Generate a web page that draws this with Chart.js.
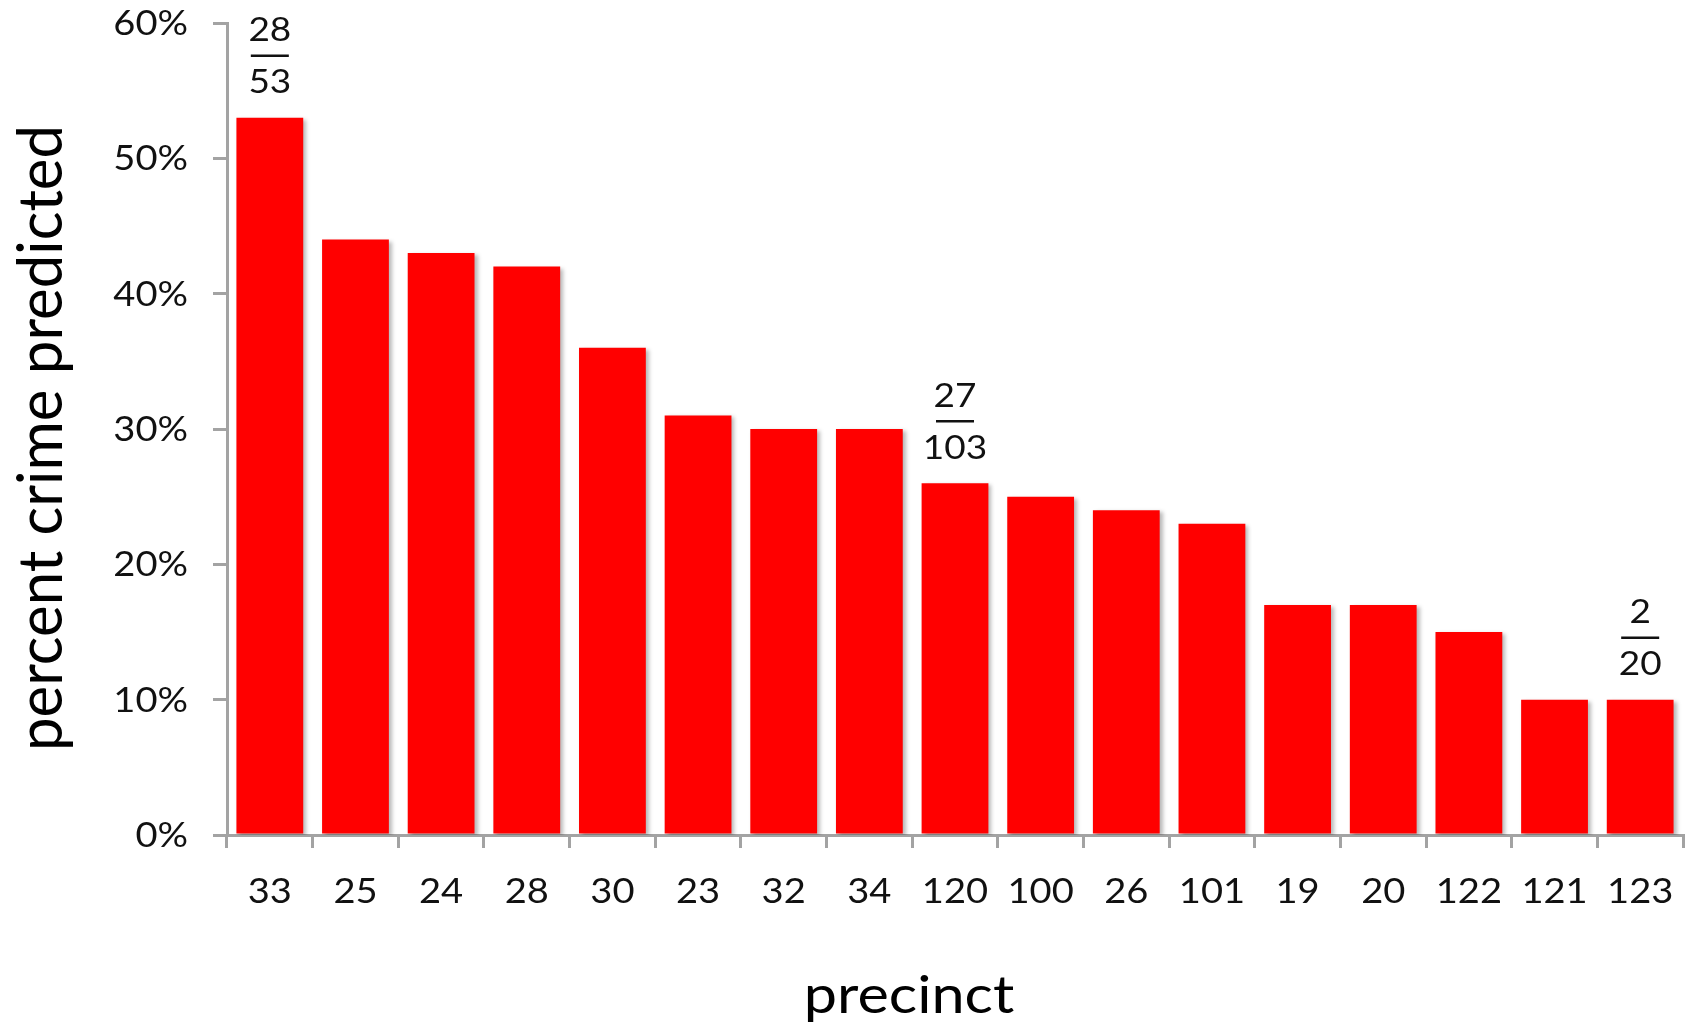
<!DOCTYPE html>
<html>
<head>
<meta charset="utf-8">
<script src="https://cdn.jsdelivr.net/npm/chart.js@4.4.1/dist/chart.umd.min.js"></script>
<style>
  html, body { margin: 0; padding: 0; background: #fff; }
  #wrap { width: 1687px; height: 1025px; }
</style>
</head>
<body>
<div id="wrap"><canvas id="crimeChart" width="1687" height="1025"></canvas></div>
<script>
// Precincts ordered by share of crime predicted
const precincts = ['33', '25', '24', '28', '30', '23', '32', '34', '120', '100', '26', '101', '19', '20', '122', '121', '123'];
const percentPredicted = [0.53, 0.44, 0.43, 0.42, 0.36, 0.31, 0.30, 0.30, 0.26, 0.25, 0.24, 0.23, 0.17, 0.17, 0.15, 0.10, 0.10];
const yTicks = [0, 0.1, 0.2, 0.3, 0.4, 0.5, 0.6];
// Fractions written above a few bars (predicted / total)
const fractionTop = [28, null, null, null, null, null, null, null, 27, null, null, null, null, null, null, null, 2];
const fractionBottom = [53, null, null, null, null, null, null, null, 103, null, null, null, null, null, null, null, 20];

const FONT = 'Lato, "Open Sans", sans-serif';
const AXIS_GRAY = '#a3a3a3';
const STRETCH = 1.12;   // the original picture is a bit wider than tall

// text drawn a little wider, like the source image
function wideText(ctx, text, x, y, align, baseline) {
    ctx.save();
    ctx.translate(x, y);
    ctx.scale(STRETCH, 1);
    ctx.textAlign = align;
    ctx.textBaseline = baseline;
    ctx.fillText(text, 0, 0);
    ctx.restore();
}

const textPlugin = {
    id: 'textLayer',
    beforeDatasetsDraw(chart) {
        // soft shadow under the bars
        const ctx = chart.ctx;
        ctx.save();
        ctx.shadowColor = 'rgba(0, 0, 0, 0.28)';
        ctx.shadowBlur = 4;
        ctx.shadowOffsetX = 3;
        ctx.shadowOffsetY = 2;
    },
    afterDatasetsDraw(chart) {
        const ctx = chart.ctx;
        ctx.restore();

        const xScale = chart.scales.x;
        const yScale = chart.scales.y;
        const area = chart.chartArea;

        ctx.save();
        ctx.fillStyle = '#111';
        ctx.strokeStyle = '#111';

        // tick labels
        ctx.font = '34px ' + FONT;
        precincts.forEach((p, i) => {
            wideText(ctx, p, xScale.getPixelForValue(i), xScale.top + 68, 'center', 'alphabetic');
        });
        yTicks.forEach(v => {
            wideText(ctx, Math.round(v * 100) + '%', area.left - 39, yScale.getPixelForValue(v) + 1, 'right', 'middle');
        });

        // fractions above a few bars
        ctx.font = '33px ' + FONT;
        const meta = chart.getDatasetMeta(0);
        meta.data.forEach((bar, i) => {
            if (fractionTop[i] == null) return;
            const x = bar.x;
            const lineY = bar.y - 62;
            ctx.lineWidth = 2.5;
            ctx.beginPath();
            ctx.moveTo(x - 19, lineY);
            ctx.lineTo(x + 19, lineY);
            ctx.stroke();
            wideText(ctx, String(fractionTop[i]), x, lineY - 25, 'center', 'middle');
            wideText(ctx, String(fractionBottom[i]), x, lineY + 27, 'center', 'middle');
        });

        // axis titles
        ctx.fillStyle = '#000';
        ctx.font = '53px ' + FONT;
        wideText(ctx, 'precinct', (area.left + area.right) / 2 - 46, 1013, 'center', 'alphabetic');

        ctx.font = '60px ' + FONT;
        ctx.save();
        ctx.translate(42, (area.top + area.bottom) / 2 + 9);
        ctx.rotate(-Math.PI / 2);
        ctx.scale(1, 1.03);
        ctx.textAlign = 'center';
        ctx.textBaseline = 'middle';
        ctx.fillText('percent crime predicted', 0, 0);
        ctx.restore();

        ctx.restore();
    }
};

const ctx = document.getElementById('crimeChart').getContext('2d');
const crimeChart = new Chart(ctx, {
    type: 'bar',
    data: {
        labels: precincts,
        datasets: [{
            label: 'percent crime predicted',
            data: percentPredicted,
            backgroundColor: '#ff0000',
            borderWidth: 0,
            barPercentage: 1.0,
            categoryPercentage: 0.78
        }]
    },
    options: {
        responsive: false,
        animation: false,
        layout: { padding: { top: 23, right: 4, left: 0, bottom: 0 } },
        plugins: {
            legend: { display: false },
            tooltip: { enabled: false }
        },
        scales: {
            x: {
                offset: true,
                grid: { offset: true, drawOnChartArea: false, tickLength: 13, color: AXIS_GRAY, lineWidth: 3 },
                border: { color: AXIS_GRAY, width: 3 },
                ticks: { display: false, autoSkip: false },
                afterFit: scale => { scale.height = 190; }
            },
            y: {
                min: 0,
                max: 0.6,
                ticks: { display: false, stepSize: 0.1 },
                grid: { drawOnChartArea: false, tickLength: 14, color: AXIS_GRAY, lineWidth: 3 },
                border: { color: AXIS_GRAY, width: 3 },
                afterFit: scale => { scale.width = 227; }
            }
        }
    },
    plugins: [textPlugin]
});
</script>
</body>
</html>
